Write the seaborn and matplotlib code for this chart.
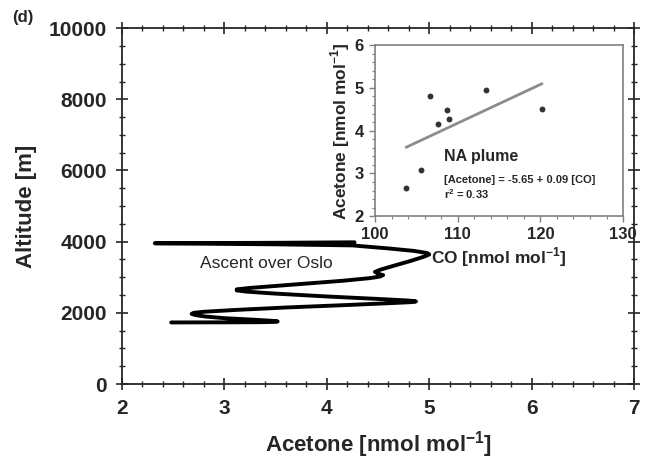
import matplotlib
matplotlib.use("Agg")
import matplotlib.pyplot as plt
import seaborn as sns
from matplotlib.ticker import MultipleLocator

# vertical profile (ascent over Oslo), bottom to top
profile_acetone = [2.48, 3.00, 3.35, 3.48, 3.52, 3.47, 3.30, 3.00, 2.82, 2.72,
                   2.68, 2.70, 2.80, 3.10, 3.60, 4.20, 4.60, 4.82, 4.87, 4.80,
                   4.50, 4.00, 3.50, 3.22, 3.12, 3.12, 3.25, 3.70, 4.15, 4.42,
                   4.52, 4.55, 4.50, 4.47, 4.52, 4.65, 4.82, 4.95, 5.00, 4.98,
                   4.85, 4.60, 4.35, 4.25, 3.50, 2.32, 3.50, 4.27]
profile_altitude = [1730, 1733, 1737, 1745, 1758, 1775, 1805, 1850, 1895, 1935,
                    1970, 2000, 2030, 2080, 2150, 2220, 2270, 2300, 2320, 2345,
                    2390, 2460, 2540, 2595, 2630, 2660, 2700, 2800, 2900, 2975,
                    3020, 3060, 3100, 3150, 3210, 3320, 3460, 3580, 3640, 3680,
                    3740, 3810, 3870, 3895, 3925, 3955, 3968, 3982]

# inset: NA plume
plume_co = [103.75, 105.6, 106.6, 107.6, 108.7, 108.9, 113.4, 120.2]
plume_acetone = [2.66, 3.08, 4.82, 4.16, 4.49, 4.28, 4.95, 4.50]

sns.set_style("ticks")
plt.rcParams['font.family'] = ['Liberation Sans', 'DejaVu Sans']
plt.rcParams['mathtext.fontset'] = 'custom'
plt.rcParams['mathtext.rm'] = 'Liberation Sans'
plt.rcParams['mathtext.bf'] = 'Liberation Sans:bold'

fig = plt.figure(figsize=(6.49, 4.61), dpi=100)
ax = fig.add_axes([0.188, 0.167, 0.789, 0.772])

sns.lineplot(x=profile_acetone, y=profile_altitude, sort=False, estimator=None,
             color='black', lw=2.8, ax=ax, solid_joinstyle='round',
             solid_capstyle='round')
ax.set_xlim(2, 7)
ax.set_ylim(0, 10000)
ax.xaxis.set_major_locator(MultipleLocator(1))
ax.xaxis.set_minor_locator(MultipleLocator(0.2))
ax.yaxis.set_major_locator(MultipleLocator(2000))
ax.yaxis.set_minor_locator(MultipleLocator(500))
ax.tick_params(which='major', direction='inout', length=8, width=1.2,
               top=True, right=True, labelsize=15, pad=7)
ax.tick_params(which='minor', direction='inout', length=5, width=1,
               top=True, right=True)
for s in ax.spines.values():
    s.set_linewidth(1.3)
for lab in ax.get_xticklabels() + ax.get_yticklabels():
    lab.set_fontweight('bold')
ax.set_xlabel(r'Acetone [nmol mol$^{\mathbf{-1}}$]', fontsize=16,
              fontweight='bold', labelpad=8)
ax.set_ylabel('Altitude [m]', fontsize=16, fontweight='bold', labelpad=8)
ax.text(2.76, 3400, 'Ascent over Oslo', fontsize=12.5, va='center')
fig.text(0.018, 0.962, '(d)', fontsize=12, fontweight='bold', va='center')

# inset
ins = fig.add_axes([0.578, 0.531, 0.382, 0.371])
sns.regplot(x=plume_co, y=plume_acetone, ci=None, ax=ins,
            scatter_kws=dict(s=18, color='black', linewidths=0),
            line_kws=dict(color='#8c8c8c', lw=2))
ins.set_xlim(100, 130)
ins.set_ylim(2, 6)
ins.xaxis.set_major_locator(MultipleLocator(10))
ins.xaxis.set_minor_locator(MultipleLocator(2))
ins.yaxis.set_major_locator(MultipleLocator(1))
ins.yaxis.set_minor_locator(MultipleLocator(0.2))
ins.tick_params(which='major', direction='out', length=4, width=1,
                labelsize=12, color='#808080', pad=4)
ins.tick_params(which='minor', direction='out', length=2.5, width=0.8,
                color='#808080')
for s in ins.spines.values():
    s.set_color('#808080')
    s.set_linewidth(1.2)
for lab in ins.get_xticklabels() + ins.get_yticklabels():
    lab.set_fontweight('bold')
ins.set_xlabel(r'CO [nmol mol$^{\mathbf{-1}}$]', fontsize=12.5,
               fontweight='bold', labelpad=2)
ins.set_ylabel(r'Acetone [nmol mol$^{\mathbf{-1}}$]', fontsize=12.5,
               fontweight='bold', labelpad=2)
ins.text(108.3, 3.39, 'NA plume', fontsize=11.5, fontweight='bold', va='center')
ins.text(108.3, 2.84, '[Acetone] = -5.65 + 0.09 [CO]', fontsize=8,
         fontweight='bold', va='center')
ins.text(108.3, 2.51, r'r$^{\mathbf{2}}$ = 0.33', fontsize=8,
         fontweight='bold', va='center')

fig.savefig('out.png', dpi=100)
